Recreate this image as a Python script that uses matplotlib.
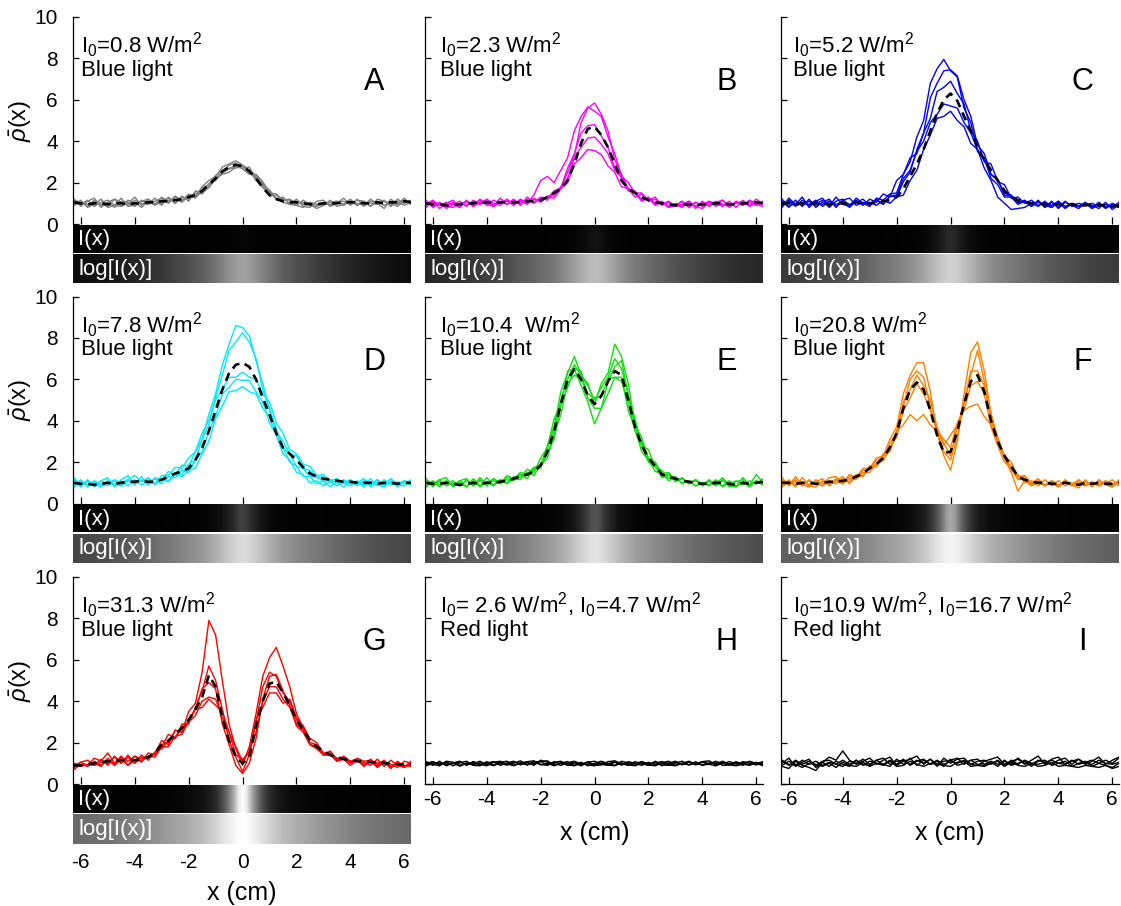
import numpy as np
import matplotlib
matplotlib.use('Agg')
import matplotlib.pyplot as plt

plt.rcParams['font.family'] = ['Liberation Sans', 'DejaVu Sans']
plt.rcParams['mathtext.fontset'] = 'custom'
plt.rcParams['mathtext.rm'] = 'Liberation Sans'
plt.rcParams['mathtext.it'] = 'Liberation Sans:italic'
plt.rcParams['mathtext.bf'] = 'Liberation Sans:bold'
plt.rcParams['axes.unicode_minus'] = False

# ---------------- data ----------------
X_CM = np.linspace(-6.25, 6.25, 51)

A_MEAN = [1.05, 1.0, 0.95, 1.0, 1.0, 0.95, 1.0, 1.0, 0.95, 1.0,
          1.0, 1.05, 1.05, 1.1, 1.1, 1.15, 1.2, 1.3, 1.4, 1.6,
          1.9, 2.2, 2.55, 2.75, 2.85, 2.8, 2.55, 2.2, 1.75, 1.4,
          1.2, 1.1, 1.05, 1.05, 1.0, 0.95, 0.95, 1.0, 1.0, 1.0,
          1.05, 1.05, 1.05, 1.0, 1.0, 1.05, 1.0, 1.05, 1.05, 1.1, 1.05]
A_TRACES = [
    [1.2, 0.85, 1.1, 1.25, 0.8, 1.05, 1.2, 0.85, 1.0, 1.3,
     0.9, 1.2, 0.95, 1.3, 1.05, 1.35, 1.1, 1.45, 1.3, 1.8,
     2.1, 2.3, 2.75, 2.9, 3.05, 2.85, 2.6, 2.1, 1.85, 1.35,
     1.4, 1.05, 0.95, 1.2, 0.85, 0.8, 1.1, 1.15, 0.85, 1.0,
     1.25, 0.9, 1.2, 0.85, 1.1, 1.0, 0.75, 1.2, 0.95, 1.25, 0.95],
    [0.9, 1.15, 0.8, 0.95, 1.2, 0.8, 0.9, 1.25, 0.85, 0.9,
     1.15, 0.95, 1.25, 0.9, 1.3, 1.0, 1.35, 1.1, 1.6, 1.5,
     1.95, 2.1, 2.5, 2.65, 2.85, 2.8, 2.55, 2.35, 1.95, 1.55,
     1.2, 1.3, 0.95, 0.9, 1.15, 0.95, 0.75, 0.9, 1.15, 0.85,
     0.95, 1.2, 0.9, 1.1, 0.85, 1.2, 1.1, 0.9, 1.2, 1.0, 1.15],
    [1.0, 0.95, 1.15, 0.85, 1.05, 1.15, 0.9, 0.85, 1.15, 1.05,
     0.8, 1.1, 0.9, 1.15, 1.25, 1.0, 1.3, 1.2, 1.5, 1.45,
     1.8, 2.2, 2.4, 2.5, 2.75, 2.7, 2.75, 2.2, 1.75, 1.55,
     1.25, 1.2, 1.15, 0.9, 0.8, 1.05, 0.95, 0.9, 1.05, 1.1,
     0.9, 1.1, 1.0, 0.9, 1.2, 0.95, 1.15, 0.85, 1.1, 0.9, 1.05],
    [1.15, 1.05, 0.85, 1.15, 0.95, 0.85, 1.2, 1.05, 0.9, 1.15,
     1.0, 0.95, 1.1, 1.25, 1.0, 1.3, 1.15, 1.4, 1.35, 1.75,
     1.9, 2.35, 2.5, 2.85, 2.95, 2.65, 2.4, 2.4, 2.05, 1.5,
     1.45, 1.15, 1.2, 1.0, 1.05, 0.9, 0.85, 1.05, 0.9, 1.05,
     1.1, 0.95, 1.15, 1.1, 0.85, 1.1, 0.9, 1.05, 0.95, 1.15, 1.1],
    [0.9, 1.05, 0.95, 1.1, 0.9, 1.05, 0.8, 1.1, 1.05, 0.85,
     1.1, 1.2, 0.95, 1.0, 1.15, 1.2, 1.05, 1.35, 1.25, 1.6,
     1.75, 2.2, 2.45, 2.7, 2.7, 2.8, 2.45, 2.25, 1.9, 1.65,
     1.2, 1.25, 1.0, 1.1, 0.95, 1.05, 0.9, 1.0, 0.95, 1.1,
     0.95, 1.1, 0.9, 1.05, 1.0, 0.95, 1.1, 1.0, 0.85, 1.1, 0.95],
]

B_MEAN = [1.0, 0.95, 0.95, 0.9, 0.95, 0.95, 1.0, 1.0, 1.05, 1.05,
          1.0, 1.05, 1.05, 1.05, 1.05, 1.1, 1.1, 1.15, 1.3, 1.5,
          1.7, 2.1, 2.9, 3.9, 4.6, 4.7, 4.3, 3.7, 2.9, 2.1,
          1.7, 1.5, 1.3, 1.15, 1.05, 1.0, 0.95, 0.9, 0.95, 0.95,
          0.9, 0.95, 0.95, 1.0, 1.0, 0.95, 0.95, 1.0, 1.0, 1.05, 1.0]
B_TRACES = [
    [0.8, 1.1, 0.75, 1.0, 1.15, 0.8, 1.15, 0.85, 1.2, 0.95,
     0.85, 1.25, 0.95, 1.2, 0.9, 1.3, 1.05, 1.3, 1.25, 1.6,
     1.75, 2.5, 3.3, 4.9, 5.6, 5.85, 5.3, 4.5, 3.1, 2.4,
     1.7, 1.6, 1.15, 1.25, 0.95, 1.05, 0.8, 0.9, 1.1, 0.8,
     1.05, 0.85, 1.1, 1.0, 0.85, 1.1, 0.8, 1.15, 0.9, 1.2, 0.95],
    [1.15, 0.8, 1.05, 0.75, 0.95, 1.1, 0.85, 1.15, 0.95, 1.2,
     1.0, 0.9, 1.2, 0.95, 1.2, 1.0, 1.4, 2.1, 2.3, 2.0,
     2.6, 3.2, 4.5, 5.2, 5.65, 5.45, 5.2, 4.2, 3.4, 2.3,
     2.0, 1.5, 1.5, 1.1, 1.2, 0.95, 1.1, 0.85, 0.95, 1.1,
     0.75, 1.1, 0.85, 1.05, 1.15, 0.8, 1.05, 0.9, 1.15, 0.95, 0.85],
    [0.9, 1.05, 0.95, 0.85, 1.05, 0.95, 1.1, 0.85, 1.05, 1.15,
     0.9, 1.1, 0.95, 1.15, 1.0, 1.2, 1.0, 1.25, 1.15, 1.55,
     1.75, 2.7, 3.4, 4.4, 4.75, 4.8, 4.25, 3.7, 2.7, 2.2,
     1.6, 1.5, 1.2, 1.3, 1.0, 1.1, 0.85, 1.0, 0.9, 1.05,
     0.85, 1.05, 0.9, 1.1, 0.95, 0.85, 1.1, 0.95, 1.05, 0.9, 1.1],
    [1.05, 0.85, 0.95, 0.85, 0.8, 1.0, 0.9, 1.1, 0.95, 1.1,
     0.85, 1.05, 1.15, 0.9, 1.15, 1.05, 1.2, 1.1, 1.35, 1.35,
     1.8, 2.2, 3.2, 3.7, 4.15, 4.2, 3.85, 3.4, 2.6, 2.3,
     1.7, 1.5, 1.1, 1.25, 0.9, 1.05, 0.8, 0.95, 0.8, 1.1,
     0.85, 0.75, 1.05, 0.9, 0.95, 0.85, 1.0, 1.1, 0.85, 1.05, 0.95],
    [0.95, 1.15, 0.9, 1.05, 0.95, 0.8, 1.1, 0.95, 1.15, 0.9,
     1.15, 1.0, 1.1, 0.95, 1.1, 0.95, 1.25, 1.05, 1.3, 1.25,
     1.7, 2.0, 2.9, 3.2, 3.6, 3.55, 3.35, 2.8, 2.5, 1.8,
     1.7, 1.3, 1.45, 1.15, 1.3, 0.9, 1.05, 0.85, 1.1, 0.8,
     1.05, 0.9, 1.1, 0.85, 1.15, 0.9, 1.05, 0.9, 1.15, 0.9, 1.05],
]

C_MEAN = [1.0, 1.0, 0.95, 1.0, 1.0, 0.95, 1.0, 0.95, 1.0, 1.0,
          1.0, 1.05, 1.0, 1.0, 1.05, 1.1, 1.15, 1.3, 1.7, 2.3,
          2.9, 3.6, 4.5, 5.35, 6.0, 6.3, 5.95, 5.2, 4.5, 3.7,
          3.1, 2.6, 2.1, 1.6, 1.3, 1.15, 1.05, 1.0, 1.0, 0.95,
          0.95, 0.95, 0.9, 0.95, 0.9, 0.9, 0.95, 0.9, 0.9, 0.85, 0.9]
C_TRACES = [
    [0.8, 1.25, 0.95, 1.3, 0.8, 1.1, 1.25, 0.85, 1.3, 0.95,
     0.85, 1.25, 1.0, 0.85, 1.25, 1.15, 1.45, 1.5, 2.4, 3.0,
     4.2, 5.0, 6.8, 7.5, 7.95, 7.4, 7.1, 5.6, 4.9, 3.5,
     3.2, 2.2, 1.9, 1.3, 1.3, 0.95, 1.1, 0.85, 1.15, 0.8,
     1.1, 0.75, 1.05, 0.9, 0.75, 1.0, 0.9, 0.75, 1.05, 0.7, 0.95],
    [1.1, 0.8, 1.15, 0.85, 1.2, 0.8, 1.05, 1.2, 0.8, 1.15,
     1.25, 0.9, 1.05, 0.95, 1.15, 0.95, 1.35, 1.3, 2.05, 2.5,
     3.6, 4.4, 6.1, 6.8, 7.4, 7.45, 7.15, 6.0, 5.2, 3.8,
     3.4, 2.4, 2.15, 1.4, 1.35, 1.0, 1.15, 0.9, 1.05, 0.9,
     0.8, 1.1, 0.8, 0.95, 0.85, 1.05, 0.75, 1.05, 0.8, 1.0, 0.85],
    [1.2, 0.85, 1.0, 0.9, 1.1, 0.95, 1.15, 0.8, 1.1, 1.2,
     0.9, 1.15, 0.9, 1.2, 1.05, 1.45, 1.3, 2.1, 2.4, 3.2,
     3.4, 4.4, 5.1, 6.4, 6.6, 6.9, 6.3, 5.8, 4.5, 4.0,
     3.0, 2.9, 2.05, 1.9, 1.25, 1.3, 1.0, 1.15, 0.9, 1.05,
     0.9, 1.1, 0.85, 1.0, 0.85, 0.95, 0.85, 1.0, 0.75, 0.95, 0.8],
    [0.85, 1.15, 0.9, 1.0, 0.95, 1.15, 0.85, 1.1, 0.95, 1.05,
     0.95, 1.05, 1.2, 0.9, 1.2, 0.95, 1.35, 1.4, 2.2, 2.6,
     3.5, 4.0, 4.9, 5.3, 5.8, 5.7, 5.6, 4.9, 4.4, 3.6,
     3.1, 2.4, 2.1, 1.5, 1.4, 1.05, 1.1, 0.85, 1.1, 0.8,
     1.05, 0.8, 1.1, 0.85, 1.0, 0.9, 1.0, 0.85, 0.95, 0.8, 1.05],
    [0.95, 1.1, 0.85, 1.15, 0.9, 1.05, 0.95, 1.1, 0.85, 1.1,
     0.8, 1.1, 0.95, 1.05, 0.9, 1.15, 1.0, 1.3, 1.4, 2.1,
     2.6, 3.6, 4.3, 5.1, 5.2, 5.45, 5.0, 4.7, 3.9, 3.6,
     2.7, 2.1, 1.3, 1.0, 0.7, 0.75, 0.8, 1.0, 0.85, 1.1,
     0.8, 1.05, 0.75, 1.0, 0.85, 1.0, 0.75, 0.95, 0.85, 0.9, 0.8],
]

D_MEAN = [1.0, 0.95, 0.95, 0.9, 0.95, 1.0, 0.95, 1.0, 1.05, 1.05,
          1.1, 1.05, 1.05, 1.15, 1.3, 1.45, 1.55, 1.7, 2.1, 2.7,
          3.5, 4.5, 5.5, 6.3, 6.7, 6.8, 6.6, 6.0, 5.1, 4.3,
          3.4, 2.7, 2.4, 2.1, 1.75, 1.45, 1.3, 1.2, 1.15, 1.1,
          1.05, 1.05, 1.0, 1.0, 1.0, 0.95, 1.0, 1.0, 0.95, 1.0, 1.0]
D_TRACES = [
    [1.25, 0.85, 1.15, 0.8, 1.1, 1.25, 0.8, 1.15, 1.35, 0.9,
     1.3, 0.9, 1.25, 1.1, 1.55, 1.4, 1.85, 1.8, 2.5, 3.1,
     4.3, 5.3, 6.7, 7.7, 8.6, 8.5, 8.1, 6.9, 5.8, 4.5,
     3.6, 2.7, 2.4, 1.8, 1.7, 1.3, 1.3, 1.05, 1.15, 1.0,
     1.15, 0.95, 1.05, 0.9, 1.2, 0.85, 1.15, 0.9, 1.05, 0.95, 1.15],
    [0.85, 1.15, 0.8, 1.1, 0.85, 1.0, 0.95, 0.85, 1.1, 1.0,
     1.1, 1.2, 0.9, 1.2, 1.1, 1.45, 1.4, 1.9, 2.1, 3.1,
     3.8, 5.1, 6.2, 7.4, 7.8, 8.25, 7.8, 7.0, 5.5, 4.6,
     3.5, 3.0, 2.4, 2.3, 1.7, 1.6, 1.25, 1.3, 1.0, 1.1,
     1.0, 1.15, 0.95, 1.05, 0.9, 1.15, 0.85, 1.1, 0.9, 1.05, 0.95],
    [1.15, 0.9, 1.1, 0.85, 1.1, 0.95, 1.15, 1.0, 1.15, 1.35,
     1.05, 1.25, 0.95, 1.35, 1.35, 1.75, 1.7, 2.2, 2.5, 3.4,
     4.0, 5.0, 5.5, 6.1, 6.1, 6.35, 6.1, 6.0, 5.3, 4.9,
     3.9, 3.4, 2.6, 2.4, 1.9, 1.8, 1.35, 1.4, 1.1, 1.2,
     0.95, 1.1, 1.0, 1.2, 0.9, 1.15, 0.95, 1.2, 0.95, 1.1, 1.0],
    [0.8, 1.05, 0.9, 1.05, 0.95, 0.85, 1.1, 0.85, 1.15, 0.9,
     1.15, 0.9, 1.2, 0.95, 1.3, 1.25, 1.6, 1.5, 2.1, 2.5,
     3.5, 4.2, 5.3, 5.6, 6.0, 5.95, 5.95, 5.4, 4.9, 3.9,
     3.3, 2.4, 2.1, 1.5, 1.4, 1.0, 1.1, 0.85, 1.1, 0.85,
     1.05, 0.85, 1.1, 0.8, 1.05, 0.9, 0.8, 1.05, 0.9, 0.85, 1.0],
    [1.05, 0.8, 1.1, 0.95, 0.8, 1.1, 0.85, 1.1, 0.85, 1.15,
     0.9, 1.05, 0.95, 1.2, 1.05, 1.4, 1.3, 1.6, 1.7, 2.4,
     3.0, 4.1, 4.7, 5.4, 5.45, 5.65, 5.4, 5.3, 4.6, 4.2,
     3.3, 2.7, 2.0, 1.8, 1.3, 1.3, 0.95, 1.1, 0.8, 1.05,
     0.8, 1.1, 0.85, 1.1, 0.8, 1.05, 0.9, 1.05, 0.8, 1.1, 0.85],
]

E_MEAN = [1.0, 0.95, 0.95, 1.0, 0.95, 0.9, 0.95, 1.0, 0.95, 1.0,
          1.0, 1.05, 1.1, 1.2, 1.3, 1.4, 1.55, 1.85, 2.5, 3.5,
          4.8, 6.0, 6.5, 6.0, 5.2, 4.8, 5.2, 5.9, 6.4, 6.2,
          5.0, 3.7, 2.8, 2.2, 1.8, 1.4, 1.3, 1.2, 1.1, 1.05,
          1.0, 0.95, 0.95, 1.0, 1.0, 0.95, 0.9, 1.0, 0.95, 1.0, 1.05]
E_TRACES = [
    [1.2, 0.8, 1.15, 1.25, 0.8, 1.1, 1.2, 0.85, 1.25, 0.95,
     1.2, 1.0, 1.35, 1.2, 1.5, 1.4, 1.75, 1.8, 2.8, 3.7,
     5.4, 6.3, 7.1, 6.2, 5.8, 4.8, 5.8, 6.3, 7.7, 7.1,
     5.8, 3.8, 3.2, 2.1, 2.0, 1.3, 1.45, 1.05, 1.25, 0.95,
     1.15, 0.95, 1.05, 0.95, 1.25, 0.85, 0.8, 1.25, 0.9, 1.4, 1.0],
    [0.85, 1.1, 0.8, 1.05, 0.9, 1.1, 0.8, 1.2, 0.85, 1.25,
     0.9, 1.15, 1.0, 1.3, 1.25, 1.65, 1.5, 2.2, 2.7, 4.1,
     4.8, 6.4, 6.5, 6.4, 5.1, 4.6, 4.6, 5.9, 6.6, 6.9,
     5.2, 4.1, 2.8, 2.6, 1.75, 1.6, 1.2, 1.3, 0.95, 1.1,
     0.85, 1.0, 0.9, 1.15, 0.85, 1.1, 0.85, 1.0, 0.9, 1.05, 0.9],
    [1.1, 0.95, 1.15, 0.85, 1.0, 0.85, 1.15, 0.85, 1.15, 0.85,
     1.2, 0.95, 1.15, 1.1, 1.4, 1.2, 1.65, 1.7, 2.5, 3.1,
     4.8, 5.6, 6.5, 5.7, 4.9, 3.85, 4.6, 5.3, 6.1, 5.9,
     4.9, 3.5, 2.8, 2.0, 1.8, 1.25, 1.35, 1.1, 1.2, 1.0,
     1.15, 0.85, 1.1, 0.85, 1.15, 0.8, 1.05, 1.15, 0.8, 1.1, 0.95],
    [0.8, 1.05, 0.9, 1.1, 0.85, 1.0, 0.8, 1.1, 0.8, 1.05,
     0.85, 1.15, 0.95, 1.2, 1.15, 1.5, 1.35, 1.85, 2.2, 3.3,
     4.3, 5.8, 6.2, 6.0, 5.3, 5.1, 5.2, 6.0, 6.1, 6.1,
     4.5, 3.6, 2.5, 2.1, 1.55, 1.45, 1.1, 1.25, 1.0, 1.1,
     0.85, 1.0, 0.85, 1.1, 0.8, 1.05, 0.8, 1.05, 0.8, 1.1, 0.9],
    [1.15, 0.9, 1.05, 0.95, 1.1, 0.85, 1.1, 0.9, 1.1, 0.95,
     1.1, 0.95, 1.25, 1.15, 1.4, 1.35, 1.7, 1.85, 2.7, 3.5,
     5.0, 6.0, 6.7, 6.2, 5.7, 5.0, 5.6, 6.1, 7.0, 6.5,
     5.3, 3.7, 3.0, 2.2, 2.0, 1.45, 1.5, 1.15, 1.2, 0.95,
     1.1, 0.9, 1.15, 0.9, 1.1, 0.95, 1.1, 0.9, 1.1, 0.95, 1.2],
]

F_MEAN = [1.0, 1.0, 0.95, 1.0, 1.0, 0.95, 1.0, 1.05, 1.05, 1.1,
          1.15, 1.3, 1.45, 1.7, 1.9, 2.2, 2.7, 3.4, 4.6, 5.5,
          5.85, 5.5, 4.5, 3.3, 2.45, 2.5, 3.5, 4.8, 5.9, 6.2,
          5.4, 4.0, 3.0, 2.3, 1.8, 1.3, 1.15, 1.05, 1.0, 1.0,
          0.95, 0.95, 1.0, 0.95, 0.9, 1.0, 0.95, 1.0, 0.95, 0.95, 1.0]
F_TRACES = [
    [1.25, 0.85, 1.3, 0.9, 0.8, 1.15, 0.9, 1.25, 1.3, 1.0,
     1.4, 1.25, 1.7, 1.7, 2.2, 2.3, 3.1, 3.7, 5.3, 6.2,
     6.8, 6.8, 5.4, 3.4, 2.3, 1.6, 3.0, 5.3, 7.3, 7.8,
     6.4, 4.3, 3.2, 2.3, 2.0, 1.3, 1.35, 0.95, 1.2, 0.85,
     1.1, 0.8, 1.15, 0.9, 0.75, 1.15, 0.8, 1.15, 0.9, 0.8, 1.15],
    [0.85, 1.15, 0.8, 1.25, 0.9, 1.05, 1.2, 0.85, 1.1, 1.3,
     0.95, 1.35, 1.3, 1.8, 1.75, 2.3, 2.5, 3.5, 4.7, 6.0,
     6.4, 6.1, 4.7, 3.4, 2.5, 2.1, 3.2, 4.8, 6.2, 7.4,
     5.9, 4.4, 2.9, 2.3, 1.6, 1.4, 1.0, 1.1, 0.85, 1.15,
     0.85, 1.1, 0.85, 1.0, 0.9, 1.05, 0.9, 1.05, 0.95, 1.15, 0.85],
    [1.1, 0.9, 1.15, 0.85, 1.15, 0.9, 1.05, 0.95, 1.2, 0.95,
     1.3, 1.25, 1.6, 1.65, 2.1, 2.2, 2.9, 3.4, 4.9, 5.5,
     6.2, 5.7, 5.0, 3.7, 2.9, 2.3, 3.7, 4.9, 6.4, 6.4,
     5.7, 4.0, 3.1, 2.2, 1.8, 1.2, 1.3, 1.0, 1.1, 0.9,
     1.05, 0.85, 1.1, 0.9, 1.05, 0.9, 1.0, 0.85, 1.05, 0.85, 1.1],
    [0.8, 1.05, 0.9, 1.05, 0.85, 0.8, 1.1, 0.9, 1.1, 0.95,
     1.2, 1.15, 1.5, 1.5, 1.95, 2.05, 2.7, 3.2, 4.5, 5.1,
     5.8, 5.3, 4.5, 3.5, 3.1, 2.7, 3.9, 4.5, 5.7, 5.9,
     5.3, 3.7, 2.8, 2.0, 1.7, 1.15, 1.2, 0.9, 1.05, 0.85,
     1.0, 0.8, 1.05, 0.85, 0.95, 0.85, 1.0, 0.85, 1.0, 0.8, 1.05],
    [1.15, 0.9, 1.05, 0.9, 1.1, 0.95, 0.85, 1.1, 0.95, 1.2,
     1.05, 1.4, 1.35, 1.8, 1.85, 2.4, 2.6, 3.5, 3.8, 4.3,
     4.0, 4.3, 3.8, 3.5, 2.8, 3.3, 3.8, 4.5, 4.7, 4.8,
     4.2, 3.8, 3.0, 2.2, 1.5, 0.6, 1.1, 0.85, 1.0, 0.9,
     1.1, 0.9, 1.05, 0.9, 1.15, 0.9, 1.05, 0.9, 1.1, 0.95, 1.1],
]

G_MEAN = [0.9, 0.9, 0.95, 1.0, 1.05, 1.1, 1.1, 1.15, 1.15, 1.15,
          1.2, 1.3, 1.5, 1.9, 2.1, 2.4, 2.7, 3.1, 3.6, 4.2,
          5.25, 4.7, 3.2, 2.1, 1.3, 1.0, 1.3, 2.8, 4.0, 4.85,
          4.95, 4.4, 3.8, 3.1, 2.6, 2.1, 1.8, 1.6, 1.4, 1.3,
          1.2, 1.15, 1.1, 1.1, 1.05, 1.05, 1.0, 1.0, 0.95, 0.95, 0.95]
G_TRACES = [
    [0.7, 0.95, 0.9, 1.25, 1.1, 1.5, 1.0, 1.35, 0.9, 1.35,
     1.2, 1.3, 1.5, 2.1, 1.9, 2.6, 2.5, 3.5, 3.9, 5.4,
     7.9, 7.2, 5.0, 2.9, 1.7, 0.9, 1.8, 3.4, 5.2, 6.1,
     6.6, 5.7, 4.7, 3.4, 2.7, 1.9, 1.8, 1.4, 1.6, 1.2,
     1.3, 1.0, 1.25, 1.1, 1.15, 1.0, 1.1, 0.95, 0.8, 1.1, 1.0],
    [1.0, 0.85, 0.95, 0.9, 1.2, 0.9, 1.35, 1.0, 1.4, 1.0,
     1.3, 1.25, 1.5, 1.8, 2.4, 2.2, 2.9, 2.9, 3.7, 4.5,
     5.7, 5.0, 3.6, 2.1, 1.3, 0.6, 1.4, 3.0, 4.7, 5.4,
     5.2, 4.4, 4.0, 3.1, 2.8, 2.2, 2.0, 1.5, 1.5, 1.1,
     1.35, 1.1, 1.2, 0.9, 1.2, 0.9, 1.15, 0.8, 1.1, 0.85, 1.0],
    [0.9, 1.05, 0.9, 1.0, 0.85, 1.25, 0.95, 1.3, 1.1, 1.35,
     1.05, 1.5, 1.4, 1.9, 2.0, 2.6, 2.5, 3.1, 3.6, 4.6,
     4.9, 4.6, 2.9, 1.9, 0.9, 0.5, 1.0, 2.2, 4.1, 5.2,
     5.3, 4.5, 3.8, 2.8, 2.5, 1.9, 1.8, 1.45, 1.4, 1.25,
     1.25, 1.1, 1.1, 1.05, 0.9, 1.2, 0.85, 1.15, 0.9, 0.8, 1.1],
    [0.8, 0.95, 0.85, 1.1, 0.9, 1.15, 0.9, 1.2, 0.9, 1.15,
     1.1, 1.35, 1.3, 1.8, 1.8, 2.3, 2.4, 3.0, 3.3, 4.0,
     4.2, 4.1, 3.2, 2.5, 1.4, 1.2, 1.5, 3.1, 3.7, 4.4,
     4.4, 3.9, 4.1, 3.2, 2.8, 2.0, 1.9, 1.4, 1.45, 1.15,
     1.2, 0.9, 1.15, 0.85, 1.1, 0.8, 1.05, 0.75, 1.05, 0.8, 0.95],
    [0.85, 1.05, 1.15, 0.9, 1.05, 1.0, 1.3, 1.0, 1.3, 1.0,
     1.4, 1.15, 1.55, 1.7, 2.1, 2.2, 2.7, 3.0, 3.6, 3.7,
     4.1, 3.8, 3.5, 2.5, 1.8, 1.1, 1.6, 2.5, 4.0, 4.7,
     4.7, 4.1, 3.7, 2.9, 2.6, 1.9, 1.7, 1.4, 1.4, 1.1,
     1.2, 1.05, 1.1, 0.95, 1.1, 0.85, 1.1, 0.85, 1.0, 0.9, 0.85],
]

H_TRACES = [
    [1.05, 0.9, 1.1, 0.88, 1.02, 1.1, 0.9, 1.08, 0.95, 0.88,
     1.05, 1.1, 0.92, 1.0, 1.12, 0.92, 1.05, 1.1, 1.12, 0.9,
     1.02, 1.08, 0.9, 1.05, 0.88, 1.0, 1.1, 0.98, 0.9, 1.1,
     1.02, 0.9, 1.08, 0.92, 1.05, 0.88, 1.02, 1.1, 0.92, 1.05,
     0.95, 1.08, 1.12, 0.92, 1.05, 0.98, 0.9, 1.08, 1.0, 0.92, 1.02],
    [0.92, 1.08, 0.95, 1.05, 0.88, 1.02, 1.1, 0.9, 0.88, 1.08,
     0.92, 1.05, 1.1, 0.9, 1.02, 1.08, 1.12, 0.95, 0.9, 1.05,
     1.1, 0.9, 1.02, 0.88, 1.05, 1.1, 0.95, 0.9, 1.05, 0.92,
     1.08, 1.0, 0.9, 1.05, 0.92, 1.02, 1.1, 0.9, 1.0, 1.1,
     0.92, 1.05, 0.95, 1.1, 0.9, 0.92, 1.05, 1.0, 0.9, 1.05, 0.92],
    [1.08, 0.95, 0.88, 1.1, 1.05, 0.9, 1.02, 0.98, 1.1, 0.92,
     1.08, 0.9, 1.02, 1.1, 0.92, 1.05, 0.9, 1.15, 1.05, 0.98,
     0.9, 1.02, 1.1, 0.92, 1.08, 0.9, 0.92, 1.08, 1.12, 0.98,
     0.9, 1.08, 0.98, 0.9, 1.1, 0.92, 0.9, 1.02, 1.1, 0.92,
     1.08, 0.9, 1.02, 0.98, 1.1, 0.95, 1.08, 0.9, 1.1, 0.98, 1.02],
    [0.88, 1.0, 1.02, 0.92, 1.02, 0.86, 1.0, 0.92, 1.02, 0.98,
     0.88, 1.02, 0.98, 0.88, 1.02, 0.92, 1.08, 0.92, 1.0, 0.88,
     1.02, 0.92, 0.88, 1.0, 0.92, 0.88, 1.0, 0.92, 0.88, 1.02,
     0.92, 0.88, 1.0, 0.92, 0.88, 1.02, 0.92, 0.88, 1.0, 0.92,
     1.0, 0.92, 0.95, 0.88, 1.0, 0.92, 0.88, 0.95, 0.92, 1.0, 0.88],
    [1.0, 1.08, 0.92, 1.02, 0.98, 1.08, 0.92, 1.08, 0.92, 1.02,
     1.08, 0.98, 0.92, 1.08, 0.98, 1.02, 0.98, 1.08, 0.92, 1.08,
     0.98, 1.0, 1.08, 0.98, 1.02, 0.92, 1.08, 0.98, 1.08, 0.92,
     1.02, 0.98, 1.08, 0.98, 1.02, 1.08, 0.98, 1.02, 0.98, 1.08,
     0.98, 1.08, 0.98, 1.08, 0.98, 1.08, 0.98, 1.02, 1.08, 0.98, 1.08],
]

I_TRACES = [
    [1.0, 1.25, 0.85, 1.05, 1.2, 0.8, 1.05, 1.3, 1.15, 1.6,
     1.15, 0.95, 1.1, 1.25, 0.95, 1.15, 1.3, 0.9, 1.1, 1.2,
     1.35, 0.95, 1.2, 0.85, 1.25, 1.0, 1.2, 1.25, 0.95, 0.9,
     1.1, 1.2, 1.3, 0.95, 1.1, 1.2, 0.95, 1.15, 1.35, 0.95,
     1.2, 1.3, 0.95, 1.1, 1.2, 0.95, 1.1, 1.3, 0.95, 1.15, 1.3],
    [0.85, 0.75, 1.1, 0.9, 0.8, 0.65, 1.05, 0.85, 1.1, 0.95,
     0.85, 1.15, 0.95, 0.9, 1.15, 0.95, 0.85, 1.2, 0.95, 1.25,
     0.9, 1.15, 0.95, 1.1, 0.85, 1.2, 0.9, 1.0, 1.15, 0.95,
     0.9, 1.05, 0.85, 1.15, 0.9, 1.0, 1.1, 0.85, 1.1, 1.15,
     0.9, 1.0, 1.1, 0.85, 1.0, 1.1, 0.85, 1.0, 0.9, 0.8, 1.0],
    [1.15, 0.95, 0.9, 1.15, 0.95, 1.1, 0.9, 1.05, 0.95, 0.85,
     1.1, 1.0, 1.2, 0.95, 1.15, 1.25, 0.95, 1.1, 1.15, 0.95,
     1.15, 1.0, 1.2, 0.95, 1.1, 1.15, 1.25, 0.95, 1.15, 1.2,
     0.95, 1.1, 0.95, 1.1, 0.95, 1.25, 1.0, 0.95, 1.15, 1.05,
     0.95, 1.15, 1.25, 0.95, 1.2, 1.0, 0.95, 1.15, 1.0, 0.95, 1.05],
    [0.9, 1.1, 0.95, 0.8, 1.0, 0.95, 0.85, 1.0, 0.8, 1.05,
     0.9, 0.85, 1.05, 0.85, 1.0, 0.9, 1.1, 0.85, 0.9, 1.1,
     0.95, 0.85, 1.0, 0.95, 0.9, 0.85, 1.05, 1.1, 0.85, 0.9,
     0.85, 1.0, 1.1, 0.85, 1.05, 0.9, 0.85, 1.0, 0.85, 0.9,
     1.05, 0.85, 0.9, 0.85, 0.8, 0.9, 0.85, 0.8, 0.9, 0.75, 0.85],
    [1.1, 0.9, 1.15, 0.95, 1.1, 0.9, 1.1, 1.15, 0.95, 1.15,
     0.95, 1.15, 0.9, 1.1, 1.0, 0.95, 1.15, 0.95, 1.2, 0.9,
     1.1, 1.2, 0.95, 1.15, 0.95, 1.1, 1.0, 1.15, 0.95, 1.1,
     1.15, 0.95, 1.15, 0.9, 1.15, 0.95, 1.15, 1.0, 0.95, 1.05,
     1.15, 1.0, 0.95, 1.15, 0.95, 1.05, 1.15, 1.0, 1.15, 1.0, 1.25],
]

# light profile (relative intensity vs |x|, cm) used for the gradient bars
PROFILE_X = [0.0, 0.15, 0.3, 0.5, 0.75, 1.0, 1.5, 2.0, 3.0, 4.0, 5.0, 6.5]
PROFILE_REL = [1.0, 0.92, 0.72, 0.5, 0.3, 0.17, 0.07, 0.04, 0.016, 0.0075, 0.0042, 0.0025]
I0_MAX = 31.3
LOG_GRAY_PER_DECADE = 0.23

PANELS = [
    dict(letter='A', title=r'$\mathrm{I}_0$=0.8 W/$\mathrm{m}^2$', light='Blue light', I0=0.8,
         color='#808080', traces=A_TRACES, mean=A_MEAN),
    dict(letter='B', title=r'$\mathrm{I}_0$=2.3 W/$\mathrm{m}^2$', light='Blue light', I0=2.3,
         color='#ff00ff', traces=B_TRACES, mean=B_MEAN),
    dict(letter='C', title=r'$\mathrm{I}_0$=5.2 W/$\mathrm{m}^2$', light='Blue light', I0=5.2,
         color='#0000ff', traces=C_TRACES, mean=C_MEAN),
    dict(letter='D', title=r'$\mathrm{I}_0$=7.8 W/$\mathrm{m}^2$', light='Blue light', I0=7.8,
         color='#00e8ff', traces=D_TRACES, mean=D_MEAN),
    dict(letter='E', title=r'$\mathrm{I}_0$=10.4  W/$\mathrm{m}^2$', light='Blue light', I0=10.4,
         color='#11dd11', traces=E_TRACES, mean=E_MEAN),
    dict(letter='F', title=r'$\mathrm{I}_0$=20.8 W/$\mathrm{m}^2$', light='Blue light', I0=20.8,
         color='#ff8000', traces=F_TRACES, mean=F_MEAN),
    dict(letter='G', title=r'$\mathrm{I}_0$=31.3 W/$\mathrm{m}^2$', light='Blue light', I0=31.3,
         color='#ff0000', traces=G_TRACES, mean=G_MEAN),
    dict(letter='H', title=r'$\mathrm{I}_0$= 2.6 W/$\mathrm{m}^2$, $\mathrm{I}_0$=4.7 W/$\mathrm{m}^2$',
         light='Red light', I0=None, color='black', traces=H_TRACES, mean=None),
    dict(letter='I', title=r'$\mathrm{I}_0$=10.9 W/$\mathrm{m}^2$, $\mathrm{I}_0$=16.7 W/$\mathrm{m}^2$',
         light='Red light', I0=None, color='black', traces=I_TRACES, mean=None),
]

# ---------------- layout ----------------
W, H = 1121, 906
fig = plt.figure(figsize=(W / 100, H / 100), dpi=100)


def rect(left, top, w, h):
    return [left / W, 1 - (top + h) / H, w / W, h / H]


COL_LEFT = [73, 425, 781]
COL_W = 337.5
ROW_TOP = [17, 296.5, 577]
AX_H = 207
TEXT_X = [0.025, 0.045, 0.036]
XLIM = (-6.29, 6.23)

xs_img = np.linspace(XLIM[0], XLIM[1], 800)
rel_img = 10 ** np.interp(np.abs(xs_img), PROFILE_X, np.log10(PROFILE_REL))

for k, p in enumerate(PANELS):
    r, c = divmod(k, 3)
    top = ROW_TOP[r]
    ax = fig.add_axes(rect(COL_LEFT[c], top, COL_W, AX_H))
    for tr in p['traces']:
        n = min(len(tr), len(X_CM))
        ax.plot(X_CM[:n], tr[:n], color=p['color'], lw=1.0)
    if p['mean'] is not None:
        ax.plot(X_CM, p['mean'], color='black', lw=1.9, dashes=(3.2, 2.2))
    ax.set_xlim(*XLIM)
    ax.set_ylim(0, 10)
    ax.spines['top'].set_visible(False)
    ax.spines['right'].set_visible(False)
    has_bars = p['I0'] is not None
    ax.spines['bottom'].set_visible(not has_bars)
    ax.spines['left'].set_linewidth(0.9)
    ax.spines['bottom'].set_linewidth(0.9)
    ax.set_yticks(range(0, 11, 2))
    ax.set_xticks(range(-6, 7, 2))
    ax.tick_params(axis='y', direction='in', length=4, width=0.9, labelsize=15, pad=11)
    ax.tick_params(axis='x', direction='in', length=5, width=0.9, labelsize=15, pad=4)
    if c != 0:
        ax.set_yticklabels([])
    if has_bars:
        ax.set_xticklabels([])
    ax.text(TEXT_X[c], 0.826, p['title'], transform=ax.transAxes, fontsize=16, va='baseline', ha='left')
    ax.text(TEXT_X[c], 0.715, p['light'], transform=ax.transAxes, fontsize=16, va='baseline', ha='left')
    ax.text(0.893, 0.647, p['letter'], transform=ax.transAxes, fontsize=22, va='baseline', ha='center')

    if has_bars:
        lin = np.clip(p['I0'] * rel_img / I0_MAX, 0, 1)
        logg = np.clip(1 + LOG_GRAY_PER_DECADE * np.log10(p['I0'] * rel_img / I0_MAX), 0, 1)
        b1 = fig.add_axes(rect(COL_LEFT[c], top + AX_H + 1, COL_W, 28))
        b1.imshow(lin[None, :], cmap='gray', vmin=0, vmax=1, aspect='auto',
                  extent=(XLIM[0], XLIM[1], 0, 1), interpolation='bilinear')
        b1.set_axis_off()
        b1.text(0.015, 0.48, 'I(x)', color='white', fontsize=16, va='center', ha='left',
                transform=b1.transAxes)
        b2 = fig.add_axes(rect(COL_LEFT[c], top + AX_H + 30, COL_W, 29.5))
        b2.imshow(logg[None, :], cmap='gray', vmin=0, vmax=1, aspect='auto',
                  extent=(XLIM[0], XLIM[1], 0, 1), interpolation='bilinear')
        b2.text(0.015, 0.48, 'log[I(x)]', color='white', fontsize=16, va='center', ha='left',
                transform=b2.transAxes)
        for s in b2.spines.values():
            s.set_visible(False)
        b2.set_yticks([])
        if r == 2:
            b2.set_xticks(range(-6, 7, 2))
            b2.tick_params(axis='x', length=0, labelsize=15, pad=7)
        else:
            b2.set_xticks([])

    if c == 0:
        fig.text(21 / W, 1 - (top + AX_H / 2) / H, r'$\bar{\rho}$(x)', rotation=90,
                 fontsize=17, ha='center', va='center')

# x labels
fig.text(242 / W, 1 - 893 / H, 'x (cm)', fontsize=18, ha='center', va='center')
fig.text(595 / W, 1 - 833 / H, 'x (cm)', fontsize=18, ha='center', va='center')
fig.text(950 / W, 1 - 833 / H, 'x (cm)', fontsize=18, ha='center', va='center')

fig.savefig('out.png', dpi=100, facecolor='white')
